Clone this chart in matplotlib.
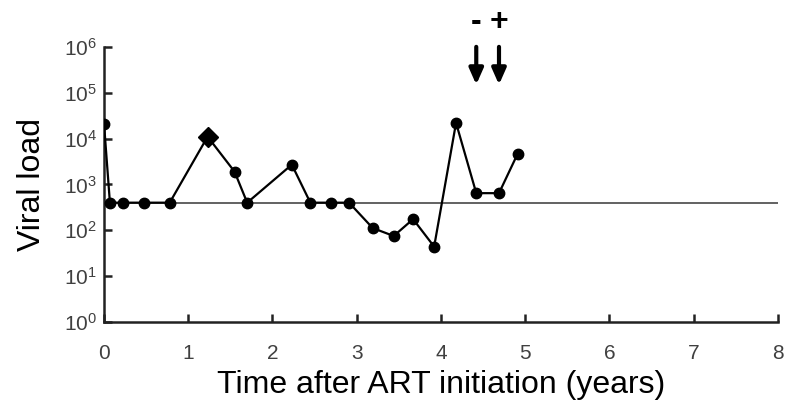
import numpy as np
import matplotlib
matplotlib.use('Agg')
import matplotlib.pyplot as plt
import matplotlib.ticker as mticker

# viral load over time (years after ART start)
years = [0.0, 0.07, 0.23, 0.475, 0.78, 1.55, 1.70, 2.23, 2.45, 2.70, 2.91,
         3.19, 3.44, 3.67, 3.92, 4.18, 4.42, 4.69, 4.91]
load = [21000, 400, 400, 400, 400, 1900, 400, 2700, 400, 400, 400,
        112, 75, 175, 44, 22000, 645, 645, 4600]
diamond_year = [1.23]
diamond_load = [11000]
detect_limit = 400
arrow_years = [4.42, 4.69]
arrow_signs = ['-', '+']

plt.rcParams['font.family'] = ['Liberation Sans', 'DejaVu Sans']

fig = plt.figure(figsize=(7.88, 4.04), dpi=100)
ax = fig.add_axes([0.132, 0.203, 0.855, 0.681])

# line through all points (diamond inserted in order)
all_x = years[:5] + diamond_year + years[5:]
all_y = load[:5] + diamond_load + load[5:]
ax.plot(all_x, all_y, color='black', lw=1.6, zorder=3)
ax.plot(years, load, 'o', color='black', ms=7.5, zorder=4)
ax.plot(diamond_year, diamond_load, 'D', color='black', ms=10, zorder=4)
ax.axhline(detect_limit, color='#555555', lw=1.3, zorder=2)

ax.set_yscale('log')
ax.set_ylim(1, 1e6)
ax.set_xlim(0, 8)
ax.set_xticks(range(0, 9))
ax.set_yticks([10.0**k for k in range(0, 7)])
ax.yaxis.set_minor_locator(mticker.NullLocator())
ax.yaxis.set_major_formatter(mticker.FuncFormatter(
    lambda v, p: r'$\mathregular{10^{%d}}$' % round(np.log10(v))))

for s in ['top', 'right']:
    ax.spines[s].set_visible(False)
for s in ['left', 'bottom']:
    ax.spines[s].set_linewidth(1.8)
    ax.spines[s].set_color('#222222')

ax.tick_params(direction='in', length=6, width=1.8, color='#222222',
               labelsize=15, labelcolor='#404040')
ax.tick_params(axis='x', pad=16)
ax.tick_params(axis='y', pad=5)

ax.set_xlabel('Time after ART initiation (years)', fontsize=23, labelpad=5)
ax.set_ylabel('Viral load', fontsize=23, labelpad=12)

# treatment arrows above the plot
for xv, sign in zip(arrow_years, arrow_signs):
    ax.annotate('', xy=(xv, 1.5e5), xytext=(xv, 1.0e6),
                arrowprops=dict(arrowstyle='-|>,head_length=0.95,head_width=0.42',
                                color='black', lw=3, shrinkA=0, shrinkB=0),
                annotation_clip=False)
    ax.text(xv, 3.4e6, sign, ha='center', va='center', fontsize=23,
            fontweight='bold', clip_on=False)

fig.savefig('out.png', dpi=100)
